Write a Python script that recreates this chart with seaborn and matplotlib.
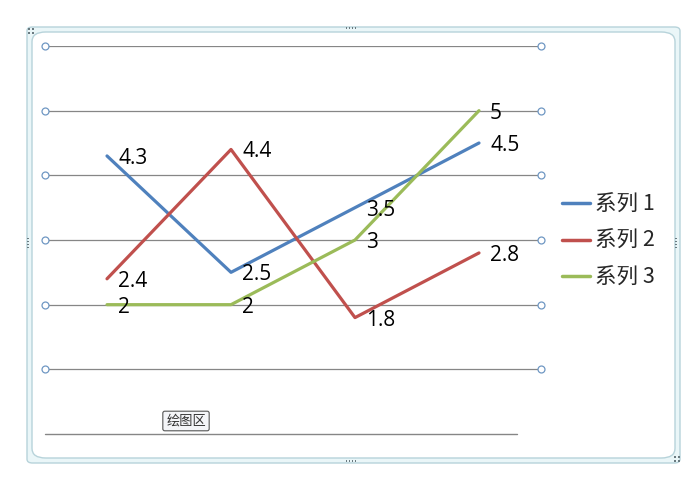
import pandas as pd
import matplotlib.pyplot as plt
import seaborn as sns
from matplotlib.patches import FancyBboxPatch

# Chart data
categories = [0, 1, 2, 3]
series_names = ['系列 1', '系列 2', '系列 3']
series_1 = [4.3, 2.5, 3.5, 4.5]
series_2 = [2.4, 4.4, 1.8, 2.8]
series_3 = [2, 2, 3, 5]
y_ticks = [0, 1, 2, 3, 4, 5, 6]
colors = ['#4F81BD', '#C0504D', '#9BBB59']

df = pd.DataFrame({
    'x': categories * 3,
    'value': series_1 + series_2 + series_3,
    'series': [s for s in series_names for _ in categories],
})

sns.set_theme(style='white')
plt.rcParams['font.family'] = ['Noto Sans CJK SC', 'DejaVu Sans']

fig = plt.figure(figsize=(6.88, 4.8), dpi=100)
W, H = 688, 480

# Outer chart frame (selected chart look)
fig.patches.append(FancyBboxPatch((27 / W, 17 / H), 653 / W, 436 / H,
                                  boxstyle='round,pad=0,rounding_size=0.008',
                                  transform=fig.transFigure, fc='#EAF6F8',
                                  ec='#B7D3DA', lw=1.0, zorder=-10))
fig.patches.append(FancyBboxPatch((32 / W, 22 / H), 643 / W, 426 / H,
                                  boxstyle='round,pad=0,rounding_size=0.02',
                                  transform=fig.transFigure, fc='white',
                                  ec='#B7D3DA', lw=1.0, zorder=-9))


def dot(px, py):
    fig.patches.append(plt.Rectangle(((px - 0.8) / W, 1 - (py + 0.8) / H),
                                     1.6 / W, 1.6 / H, transform=fig.transFigure,
                                     fc='#6A7A80', ec='none', zorder=-8))


# Handle dots
for k in [-4.5, -1.5, 1.5, 4.5]:
    dot(351 + k, 28)
    dot(351 + k, 461)
    dot(28, 243 + k)
    dot(676, 243 + k)
for cx, cy in [(31, 31), (677, 459)]:
    for dx, dy in [(-2, -2), (2, -2), (-2, 2), (2, 2)]:
        dot(cx + dx, cy + dy)

ax = fig.add_axes([45 / W, 1 - 434 / H, 496 / W, 388 / H])
ax.patch.set_alpha(0)

sns.lineplot(data=df, x='x', y='value', hue='series', palette=colors,
             linewidth=2.3, ax=ax, legend=True)

ax.set_xlim(-0.5, 3.5)
ax.set_ylim(0, 6)
ax.set_yticks(y_ticks)
ax.set_xticks([])
ax.set_yticklabels([])
ax.tick_params(left=False, bottom=False)
ax.set_xlabel('')
ax.set_ylabel('')
for sp in ax.spines.values():
    sp.set_visible(False)

# Gridlines with end handles
for yv in y_ticks[1:]:
    ax.axhline(yv, color='#868686', lw=0.9, zorder=0)
    ax.plot([-0.5, 3.5], [yv, yv], ls='none', marker='o', ms=5, mfc='white',
            mec='#6F97C3', mew=0.9, clip_on=False, zorder=5)
ax.axhline(0, xmin=0, xmax=472 / 496, color='#868686', lw=1.0, zorder=0,
           clip_on=False)

# Data labels
for vals in [series_1, series_2, series_3]:
    for xv, yv in zip(categories, vals):
        ax.annotate(f'{yv:g}', (xv, yv), xytext=(8, -1.8), textcoords='offset points',
                    ha='left', va='center', fontsize=15, color='black',
                    family=['Open Sans', 'DejaVu Sans'])

leg = ax.legend(loc='center left', bbox_to_anchor=(1.025, 0.497), frameon=False,
                fontsize=15.5, handlelength=1.3, handletextpad=0.25,
                labelspacing=0.68, borderaxespad=0)
for line in leg.get_lines():
    line.set_linewidth(2.5)

# "Plot area" tooltip
fig.text(186 / W, 1 - 421 / H, '绘图区', ha='center', va='center', fontsize=9.5,
         color='#333333',
         bbox=dict(boxstyle='round,pad=0.25,rounding_size=0.15', fc='#F4F5F8',
                   ec='#555555', lw=0.8))

fig.savefig('out.png', dpi=100)
